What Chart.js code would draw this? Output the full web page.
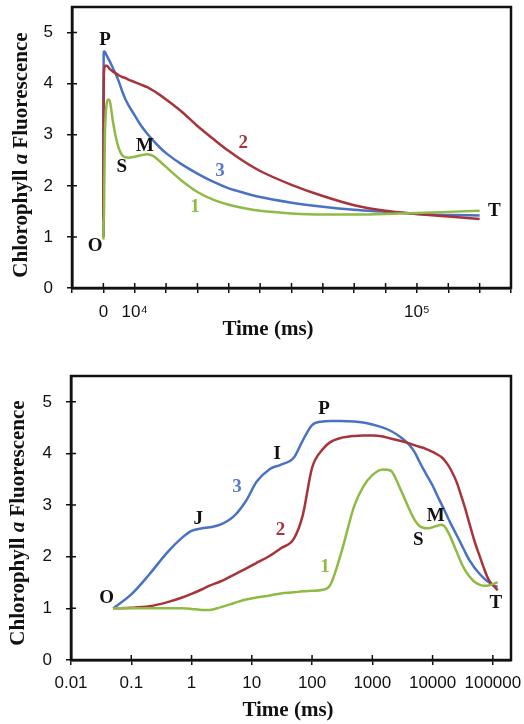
<!DOCTYPE html>
<html>
<head>
<meta charset="utf-8">
<script src="https://cdn.jsdelivr.net/npm/chart.js"></script>
<style>
  body { margin: 0; background: #fff; }
  .box { position: absolute; left: 0; }
  #topBox { top: 0; }
  #botBox { top: 350px; }
</style>
</head>
<body>
<div class="box" id="topBox"><canvas id="topChart" width="524" height="350"></canvas></div>
<div class="box" id="botBox"><canvas id="botChart" width="524" height="374"></canvas></div>
<script>
// time in ms, shared by both panels
const time = [0.05, 0.1, 0.2, 0.4, 0.7, 1, 1.5, 2, 3, 5, 8, 12, 20, 30, 50, 70, 100, 150, 200, 300,
  500, 700, 1000, 1500, 2000, 3000, 4000, 5000, 6000, 7000, 8000, 10000, 12000, 14000, 16000, 18000,
  20000, 25000, 30000, 35000, 40000, 45000, 50000, 60000, 70000, 80000, 90000, 100000, 110000, 120000];

// curve 1
const green = [1.00, 1.00, 1.00, 1.00, 1.00, 0.99, 0.97, 0.97, 1.02, 1.10, 1.17, 1.21, 1.25, 1.29, 1.31, 1.33, 1.34, 1.36, 1.45, 2.05,
  2.98, 3.35, 3.58, 3.69, 3.67, 3.28, 2.95, 2.72, 2.60, 2.56, 2.55, 2.57, 2.60, 2.62, 2.58, 2.48,
  2.37, 2.10, 1.88, 1.73, 1.63, 1.56, 1.51, 1.46, 1.44, 1.44, 1.45, 1.47, 1.49, 1.51];

// curve 2
const red = [1.00, 1.01, 1.04, 1.12, 1.21, 1.28, 1.37, 1.44, 1.52, 1.65, 1.77, 1.88, 2.02, 2.16, 2.35, 2.80, 3.72, 4.08, 4.22, 4.30,
  4.34, 4.35, 4.35, 4.33, 4.29, 4.24, 4.20, 4.16, 4.13, 4.11, 4.08, 4.03, 3.98, 3.93, 3.86, 3.78,
  3.69, 3.45, 3.17, 2.92, 2.68, 2.47, 2.29, 2.02, 1.80, 1.62, 1.51, 1.45, 1.40, 1.35];

// curve 3
const blue = [1.00, 1.27, 1.66, 2.09, 2.37, 2.50, 2.55, 2.57, 2.62, 2.78, 3.08, 3.45, 3.70, 3.78, 3.92, 4.25, 4.55, 4.62, 4.63, 4.63,
  4.62, 4.60, 4.56, 4.50, 4.44, 4.31, 4.18, 4.03, 3.85, 3.70, 3.58, 3.38, 3.18, 3.02, 2.88, 2.75,
  2.64, 2.42, 2.24, 2.08, 1.95, 1.86, 1.78, 1.67, 1.59, 1.53, 1.49, 1.45, 1.43, 1.42];

const yTicks = [0, 1, 2, 3, 4, 5];
const linTickValues = [0, 10000, 100000];
const linTickLabels = ['0', '10⁴', '10⁵'];
const logTickValues = [0.01, 0.1, 1, 10, 100, 1000, 10000, 100000];
const logTickLabels = ['0.01', '0.1', '1', '10', '100', '1000', '10000', '100000'];

const ink = '#111';
const cGreen = '#8fba43', cRed = '#a8343a', cBlue = '#4a72c4';

// letter labels: [text, time, value, colour]
const topNotes = [
  ['P', 540, 4.86, ink], ['S', 5860, 2.36, ink], ['M', 13280, 2.77, ink],
  ['O', -2640, 0.82, ink], ['T', 124660, 1.50, ink],
  ['1', 29200, 1.59, cGreen], ['2', 44590, 2.84, cRed], ['3', 37170, 2.28, '#5a7bd0']
];
const botNotes = [
  ['O', 0.039, 1.20, ink], ['J', 1.29, 2.72, ink], ['I', 26.4, 3.98, ink], ['P', 158, 4.85, ink],
  ['S', 5800, 2.33, ink], ['M', 11300, 2.78, ink], ['T', 111700, 1.10, ink],
  ['1', 164, 1.79, cGreen], ['2', 30, 2.52, cRed], ['3', 5.66, 3.34, '#5a7bd0']
];

const serif = '"Liberation Serif", "Times New Roman", serif';
const sans = '"Liberation Sans", Arial, sans-serif';

function series(vals) {
  return time.map((t, i) => ({ x: t, y: vals[i] }));
}

const decor = {
  id: 'decor',
  afterDraw(chart, args, o) {
    const { ctx, chartArea: a, scales: { x, y } } = chart;
    ctx.save();
    ctx.strokeStyle = ink;
    ctx.lineWidth = 1.5;
    ctx.beginPath();
    x.ticks.forEach((t, i) => {
      const px = x.getPixelForTick(i);
      ctx.moveTo(px, a.bottom);
      ctx.lineTo(px, a.bottom - 5);
    });
    y.ticks.forEach((t, i) => {
      const py = y.getPixelForTick(i);
      ctx.moveTo(a.left, py);
      ctx.lineTo(a.left + 5, py);
    });
    ctx.stroke();

    ctx.lineWidth = 2.5;
    ctx.strokeRect(a.left, a.top, a.right - a.left, a.bottom - a.top);

    ctx.textAlign = 'center';
    ctx.textBaseline = 'middle';
    ctx.font = 'bold 19px ' + serif;
    o.notes.forEach(([txt, tx, ty, col]) => {
      ctx.fillStyle = col;
      ctx.fillText(txt, x.getPixelForValue(tx), y.getPixelForValue(ty));
    });

    // x title
    ctx.fillStyle = ink;
    ctx.font = 'bold 21px ' + serif;
    ctx.fillText('Time (ms)', o.xTitle[0], o.xTitle[1]);

    // y title with italic "a"
    const parts = [
      ['Chlorophyll ', 'bold 21px ' + serif],
      ['a', 'italic bold 21px ' + serif],
      [' Fluorescence', 'bold 21px ' + serif]
    ];
    let total = 0;
    parts.forEach(p => { ctx.font = p[1]; total += ctx.measureText(p[0]).width; });
    ctx.translate(o.yTitle[0], o.yTitle[1]);
    ctx.rotate(-Math.PI / 2);
    ctx.textAlign = 'left';
    let cx = -total / 2;
    parts.forEach(p => {
      ctx.font = p[1];
      ctx.fillText(p[0], cx, 0);
      cx += ctx.measureText(p[0]).width;
    });
    ctx.restore();
  }
};

function makeDatasets() {
  return [
    { data: series(green), borderColor: cGreen },
    { data: series(red), borderColor: cRed },
    { data: series(blue), borderColor: cBlue }
  ].map(d => Object.assign(d, {
    borderWidth: 2.5,
    pointRadius: 0,
    fill: false,
    cubicInterpolationMode: 'monotone'
  }));
}

function yScale(width) {
  return {
    min: 0,
    max: 5.5,
    afterBuildTicks: s => { s.ticks = yTicks.map(v => ({ value: v })); },
    afterFit: s => { s.width = width; s.paddingTop = 0; s.paddingBottom = 0; },
    ticks: { font: { family: sans, size: 17 }, color: ink, padding: 14 },
    grid: { drawOnChartArea: false, tickLength: 5, color: ink, lineWidth: 1.5 },
    border: { color: ink, width: 2.5 }
  };
}

// keep the plot box fixed, labels may hang over the edges
function fixX(height) {
  return s => { s.height = height; s.paddingLeft = 0; s.paddingRight = 0; };
}

new Chart(document.getElementById('topChart'), {
  type: 'line',
  data: { datasets: makeDatasets() },
  plugins: [decor],
  options: {
    responsive: false,
    animation: false,
    layout: { padding: { top: 7, right: 13, left: 0, bottom: 0 } },
    plugins: {
      legend: { display: false },
      tooltip: { enabled: false },
      decor: { notes: topNotes, xTitle: [268, 330], yTitle: [22, 155] }
    },
    scales: {
      x: {
        type: 'linear',
        min: -10000,
        max: 130000,
        afterFit: fixX(62),
        ticks: {
          stepSize: 10000,
          autoSkip: false,
          maxRotation: 0,
          padding: 9,
          font: { family: sans, size: 17 },
          color: ink,
          callback: v => {
            const k = linTickValues.indexOf(v);
            return k >= 0 ? linTickLabels[k] : '';
          }
        },
        grid: { drawOnChartArea: false, tickLength: 5, color: ink, lineWidth: 1.5 },
        border: { color: ink, width: 2.5 }
      },
      y: yScale(72)
    }
  }
});

new Chart(document.getElementById('botChart'), {
  type: 'line',
  data: { datasets: makeDatasets() },
  plugins: [decor],
  options: {
    responsive: false,
    animation: false,
    layout: { padding: { top: 26, right: 13, left: 0, bottom: 0 } },
    plugins: {
      legend: { display: false },
      tooltip: { enabled: false },
      decor: { notes: botNotes, xTitle: [288, 361], yTitle: [19, 173] }
    },
    scales: {
      x: {
        type: 'logarithmic',
        min: 0.01,
        max: 200000,
        afterBuildTicks: s => { s.ticks = logTickValues.map(v => ({ value: v })); },
        afterFit: fixX(64),
        ticks: {
          autoSkip: false,
          maxRotation: 0,
          minRotation: 0,
          padding: 8,
          font: { family: sans, size: 17 },
          color: ink,
          callback: (v, i) => logTickLabels[i]
        },
        grid: { drawOnChartArea: false, tickLength: 5, color: ink, lineWidth: 1.5 },
        border: { color: ink, width: 2.5 }
      },
      y: yScale(71)
    }
  }
});
</script>
</body>
</html>
